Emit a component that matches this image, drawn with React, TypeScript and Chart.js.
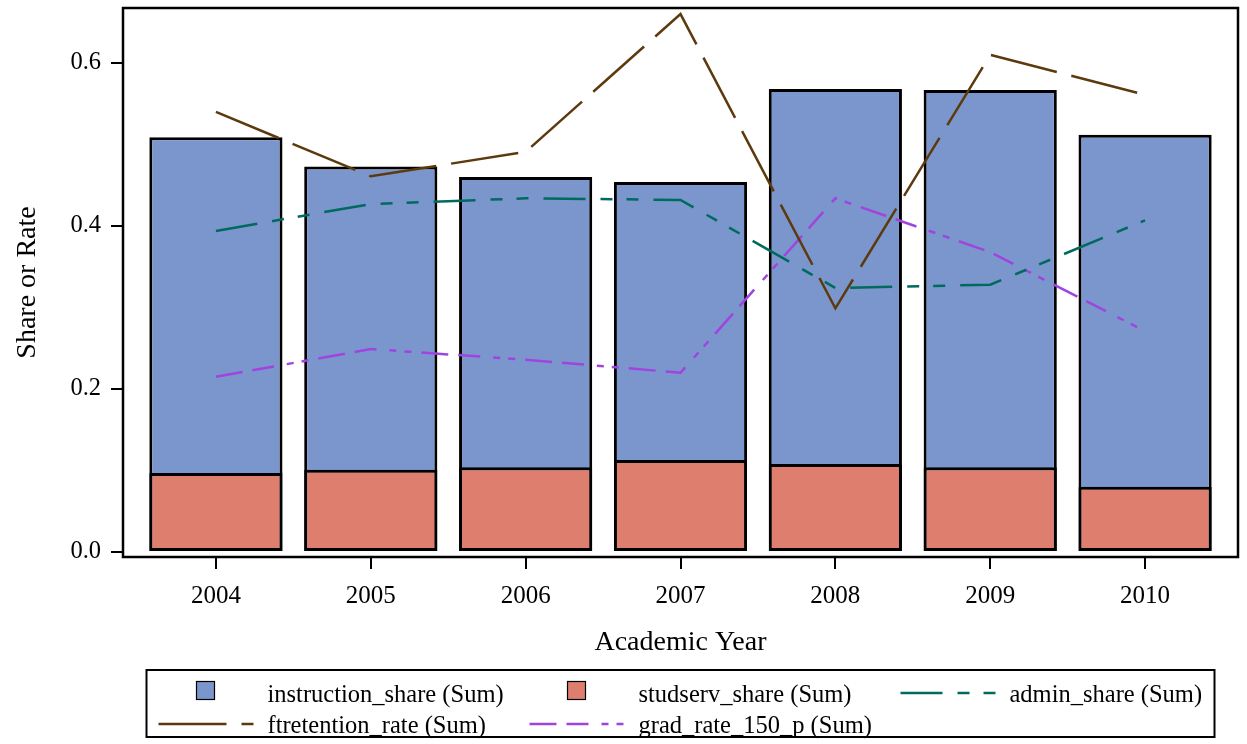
import React, { useEffect, useRef } from "react";
import { Chart, registerables } from "chart.js";

Chart.register(...registerables);

const years = [2004, 2005, 2006, 2007, 2008, 2009, 2010];
const instructionShare = [0.509, 0.473, 0.46, 0.454, 0.568, 0.567, 0.512];
const studservShare = [0.097, 0.101, 0.104, 0.113, 0.108, 0.104, 0.08];
const adminShare = [0.394, 0.427, 0.434, 0.432, 0.324, 0.328, 0.407];
const ftretentionRate = [0.54, 0.461, 0.491, 0.66, 0.299, 0.61, 0.561];
const gradRate150 = [0.215, 0.249, 0.236, 0.22, 0.434, 0.368, 0.271];
const yTicks = [0, 0.2, 0.4, 0.6];

const FONT = '"Liberation Serif", "Times New Roman", serif';

const pts = (vals: number[]) => years.map((x, i) => ({ x, y: vals[i] }));

const framePlugin = {
  id: "frame",
  afterDatasetsDraw(chart: any) {
    const { ctx, chartArea: a } = chart;
    ctx.save();
    ctx.strokeStyle = "#000";
    ctx.lineWidth = 2.5;
    ctx.strokeRect(a.left, a.top, a.right - a.left, a.bottom - a.top);
    ctx.restore();
  },
};

const legendPlugin = {
  id: "sasLegend",
  afterDraw(chart: any) {
    const { ctx, chartArea: a } = chart;
    const boxW = 1068;
    const boxH = 67;
    const boxL = (a.left + a.right) / 2 - boxW / 2;
    const boxT = a.bottom + 113;
    ctx.save();
    ctx.strokeStyle = "#000";
    ctx.lineWidth = 2;
    ctx.strokeRect(boxL, boxT, boxW, boxH);
    ctx.font = `24.5px ${FONT}`;
    ctx.textBaseline = "alphabetic";
    ctx.textAlign = "left";
    chart.data.datasets.forEach((ds: any, i: number) => {
      const row = Math.floor(i / 3);
      const col = i % 3;
      const cx = boxL + col * 371;
      const base = boxT + 32 + row * 31;
      if (ds.type === "bar") {
        ctx.fillStyle = ds.backgroundColor;
        ctx.fillRect(cx + 50, base - 20.5, 18, 18);
        ctx.lineWidth = 1.2;
        ctx.strokeStyle = "#000";
        ctx.setLineDash([]);
        ctx.strokeRect(cx + 50, base - 20.5, 18, 18);
      } else {
        ctx.beginPath();
        ctx.strokeStyle = ds.borderColor;
        ctx.lineWidth = 2.5;
        ctx.setLineDash(ds.borderDash || []);
        ctx.moveTo(cx + 12, base - 9);
        ctx.lineTo(cx + 107, base - 9);
        ctx.stroke();
        ctx.setLineDash([]);
      }
      ctx.fillStyle = "#000";
      ctx.fillText(ds.label, cx + 121, base);
    });
    ctx.restore();
  },
};

export default function App() {
  const ref = useRef<HTMLCanvasElement | null>(null);
  useEffect(() => {
    if (!ref.current) return;
    const lineCommon = {
      type: "line" as const,
      pointRadius: 0,
      borderWidth: 2.5,
      tension: 0,
      fill: false,
      order: 1,
    };
    const chart = new Chart(ref.current, {
      data: {
        datasets: [
          {
            type: "bar",
            label: "instruction_share (Sum)",
            data: pts(instructionShare),
            backgroundColor: "#7B96CC",
            borderColor: "#000",
            borderWidth: 3,
            borderSkipped: false,
            grouped: false,
            barPercentage: 0.86,
            categoryPercentage: 1,
            order: 3,
          } as any,
          {
            type: "bar",
            label: "studserv_share (Sum)",
            data: pts(studservShare),
            backgroundColor: "#DE7E6F",
            borderColor: "#000",
            borderWidth: 3,
            borderSkipped: false,
            grouped: false,
            barPercentage: 0.86,
            categoryPercentage: 1,
            order: 2,
          } as any,
          {
            ...lineCommon,
            label: "admin_share (Sum)",
            data: pts(adminShare),
            borderColor: "#016A5F",
            borderDash: [42, 15, 12, 14, 12, 15],
          } as any,
          {
            ...lineCommon,
            label: "ftretention_rate (Sum)",
            data: pts(ftretentionRate),
            borderColor: "#5C3A0E",
            borderDash: [68, 15],
          } as any,
          {
            ...lineCommon,
            label: "grad_rate_150_p (Sum)",
            data: pts(gradRate150),
            borderColor: "#A044E0",
            borderDash: [27, 10, 22, 13, 7, 8, 7, 10],
          } as any,
        ],
      },
      options: {
        responsive: false,
        animation: false,
        devicePixelRatio: 1,
        layout: { padding: { left: 0, top: 8, right: 9, bottom: 77 } },
        plugins: {
          legend: { display: false },
          tooltip: { enabled: false },
        },
        scales: {
          x: {
            type: "linear",
            offset: false,
            min: 2003.4,
            max: 2010.6,
            afterBuildTicks: (s: any) => {
              s.ticks = years.map((v) => ({ value: v }));
            },
            afterFit: (s: any) => {
              s.height = 110;
              s.paddingLeft = 0;
              s.paddingRight = 0;
            },
            ticks: {
              callback: (v: any) => String(v),
              color: "#000",
              font: { family: FONT, size: 25 },
              padding: 12,
              maxRotation: 0,
              autoSkip: false,
            },
            grid: {
              display: true,
              offset: false,
              drawOnChartArea: false,
              drawTicks: true,
              tickLength: 12,
              color: "#000",
              lineWidth: 2,
            },
            border: { display: false },
            title: {
              display: true,
              text: "Academic Year",
              color: "#000",
              font: { family: FONT, size: 28 },
              padding: { top: 0, bottom: 8 },
            },
          },
          y: {
            type: "linear",
            min: -0.0061,
            max: 0.6675,
            afterBuildTicks: (s: any) => {
              s.ticks = yTicks.map((v) => ({ value: v }));
            },
            afterFit: (s: any) => {
              s.width = 123;
              s.paddingTop = 0;
              s.paddingBottom = 0;
            },
            ticks: {
              callback: (v: any) => Number(v).toFixed(1),
              color: "#000",
              font: { family: FONT, size: 24.5 },
              padding: 10,
            },
            grid: {
              display: true,
              drawOnChartArea: false,
              drawTicks: true,
              tickLength: 12,
              color: "#000",
              lineWidth: 2,
            },
            border: { display: false },
            title: {
              display: true,
              text: "Share or Rate",
              color: "#000",
              font: { family: FONT, size: 28 },
              padding: { top: 11, bottom: 0 },
            },
          },
        },
      } as any,
      plugins: [framePlugin, legendPlugin],
    });
    return () => chart.destroy();
  }, []);
  return (
    <div style={{ position: "absolute", left: 0, top: 0, width: 1247, height: 744, background: "#fff" }}>
      <canvas ref={ref} width={1247} height={744} style={{ display: "block" }} />
    </div>
  );
}
